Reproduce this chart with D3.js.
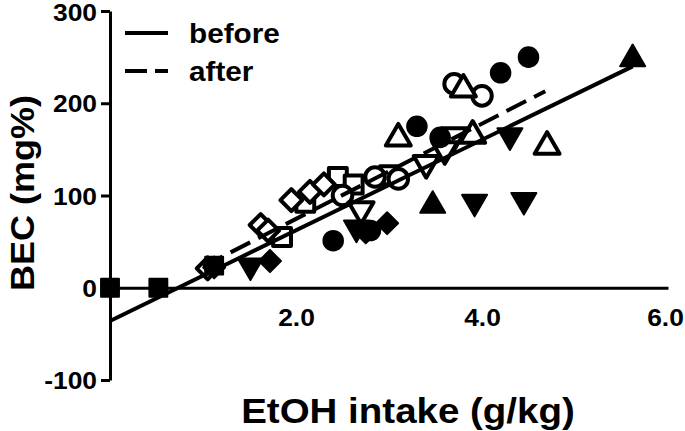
<!DOCTYPE html>
<html><head><meta charset="utf-8">
<script src="https://cdn.jsdelivr.net/npm/d3@7"></script>
<style>body{margin:0;background:#fff}svg{display:block}text{font-family:"Liberation Sans",Arial,sans-serif;font-weight:bold;fill:#000}</style>
</head><body>
<svg id="c" width="685" height="431"></svg>
<script>
// ---- data ----
const xTicks = [2.0, 4.0, 6.0];
const yTicks = [-100, 0, 100, 200, 300];
const xLabel = "EtOH intake (g/kg)";
const yLabel = "BEC (mg%)";
const legendLabels = ["before", "after"];
// regression lines [x1,y1,x2,y2]
const beforeLine = [0, -36, 5.62, 240];
const afterLine = [1.0, 23, 4.68, 213];
// filled markers = before, open = after
const squareBefore = [[0, 0], [0.52, 0], [1.12, 24]];
const squareAfter = [[1.85, 55], [2.1, 92], [2.45, 120], [2.62, 112], [3.0, 122]];
const diamondBefore = [[1.12, 22], [1.72, 29], [2.75, 60], [2.98, 70]];
const diamondAfter = [[1.05, 21], [1.62, 68], [1.95, 95], [2.15, 104], [2.3, 112], [1.7, 62]];
const circleBefore = [[2.4, 51], [3.3, 175], [3.55, 163], [4.2, 233], [4.5, 250], [2.8, 62]];
const circleAfter = [[2.5, 100], [2.85, 120], [3.1, 118], [3.7, 221], [4.0, 208]];
const triUpBefore = [[3.47, 89], [5.62, 248]];
const triUpAfter = [[3.1, 162], [3.9, 165], [4.7, 153], [3.8, 215]];
const triDownBefore = [[1.51, 24], [3.92, 93], [4.45, 95], [4.3, 165], [2.65, 65]];
const triDownAfter = [[2.7, 85], [3.4, 135], [3.7, 165], [3.6, 150]];

const svg = d3.select("#c");
const x = d3.scaleLinear().domain([0, 6]).range([110, 668]);
const y = d3.scaleLinear().domain([-100, 300]).range([380, 11]);
const SX = 1.1;
const fmtY = d => String(d);

// y axis
const yAxis = d3.axisLeft(y).tickValues(yTicks).tickSize(9).tickSizeOuter(0).tickFormat(fmtY);
const gy = svg.append("g").attr("transform", `translate(${x(0)},0)`).call(yAxis);
gy.select(".domain").attr("stroke", "#000").attr("stroke-width", 3);
gy.selectAll(".tick line").attr("stroke", "#000").attr("stroke-width", 3);
gy.selectAll(".tick text").attr("x", null).attr("dy", null)
  .attr("transform", d => `translate(-13,${d === 300 ? 9.5 : 8.5}) scale(${SX},1)`)
  .attr("font-size", 24).attr("font-family", "Liberation Sans, Arial, sans-serif")
  .attr("font-weight", "bold").attr("text-anchor", "end");

// x axis at y=0
const xAxis = d3.axisBottom(x).tickValues(xTicks).tickSize(0).tickSizeOuter(0).tickFormat(d3.format(".1f"));
const gx = svg.append("g").attr("transform", `translate(0,${y(0)})`).call(xAxis);
gx.select(".domain").attr("stroke", "#000").attr("stroke-width", 3);
gx.selectAll(".tick text").attr("y", null).attr("dy", null)
  .attr("transform", d => `translate(${d === 6 ? -3 : 0},38) scale(${SX},1)`)
  .attr("font-size", 24).attr("font-family", "Liberation Sans, Arial, sans-serif")
  .attr("font-weight", "bold").attr("text-anchor", "middle");

// titles
svg.append("text").attr("transform", `translate(408,423) scale(${SX},1)`)
  .attr("text-anchor", "middle").attr("font-size", 35).text(xLabel);
svg.append("text").attr("transform", `translate(34,193) rotate(-90) scale(1.06,1)`)
  .attr("text-anchor", "middle").attr("font-size", 34).text(yLabel);

// markers
const shapes = {
  square: d3.symbol().type(d3.symbolSquare).size(320),
  diamond: d3.symbol().type(d3.symbolSquare).size(240),
  circle: d3.symbol().type(d3.symbolCircle).size(300),
  triUp: d3.symbol().type(d3.symbolTriangle).size(270),
  triDown: d3.symbol().type(d3.symbolTriangle).size(270)
};
const rot = {square: 0, diamond: 45, circle: 0, triUp: 0, triDown: 180};
const series = [
  ["square", squareAfter, false], ["diamond", diamondAfter, false], ["circle", circleAfter, false],
  ["triUp", triUpAfter, false], ["triDown", triDownAfter, false],
  ["square", squareBefore, true], ["diamond", diamondBefore, true], ["circle", circleBefore, true],
  ["triUp", triUpBefore, true], ["triDown", triDownBefore, true]
];
series.forEach(([shape, data, filled]) => {
  svg.append("g").selectAll("path").data(data).join("path")
    .attr("d", shapes[shape])
    .attr("transform", d => `translate(${x(d[0])},${y(d[1])}) rotate(${rot[shape]})`)
    .attr("fill", filled ? "#000" : "#fff")
    .attr("stroke", "#000").attr("stroke-width", filled ? 2 : 4)
    .attr("stroke-linejoin", "round");
});

// regression lines
svg.append("line").attr("x1", x(beforeLine[0])).attr("y1", y(beforeLine[1]))
  .attr("x2", x(beforeLine[2])).attr("y2", y(beforeLine[3]))
  .attr("stroke", "#000").attr("stroke-width", 4);
svg.append("line").attr("x1", x(afterLine[0])).attr("y1", y(afterLine[1]))
  .attr("x2", x(afterLine[2])).attr("y2", y(afterLine[3]))
  .attr("stroke", "#000").attr("stroke-width", 4).attr("stroke-dasharray", "22,9");

// legend
const leg = svg.append("g");
[[33, null], [71, "22,8"]].forEach(([ly, dash], i) => {
  leg.append("line").attr("x1", 125).attr("x2", 168).attr("y1", ly).attr("y2", ly)
    .attr("stroke", "#000").attr("stroke-width", 4).attr("stroke-dasharray", dash);
  leg.append("text").attr("transform", `translate(189,${ly + 10}) scale(${SX},1)`)
    .attr("font-size", 27).text(legendLabels[i]);
});
</script>
</body></html>
